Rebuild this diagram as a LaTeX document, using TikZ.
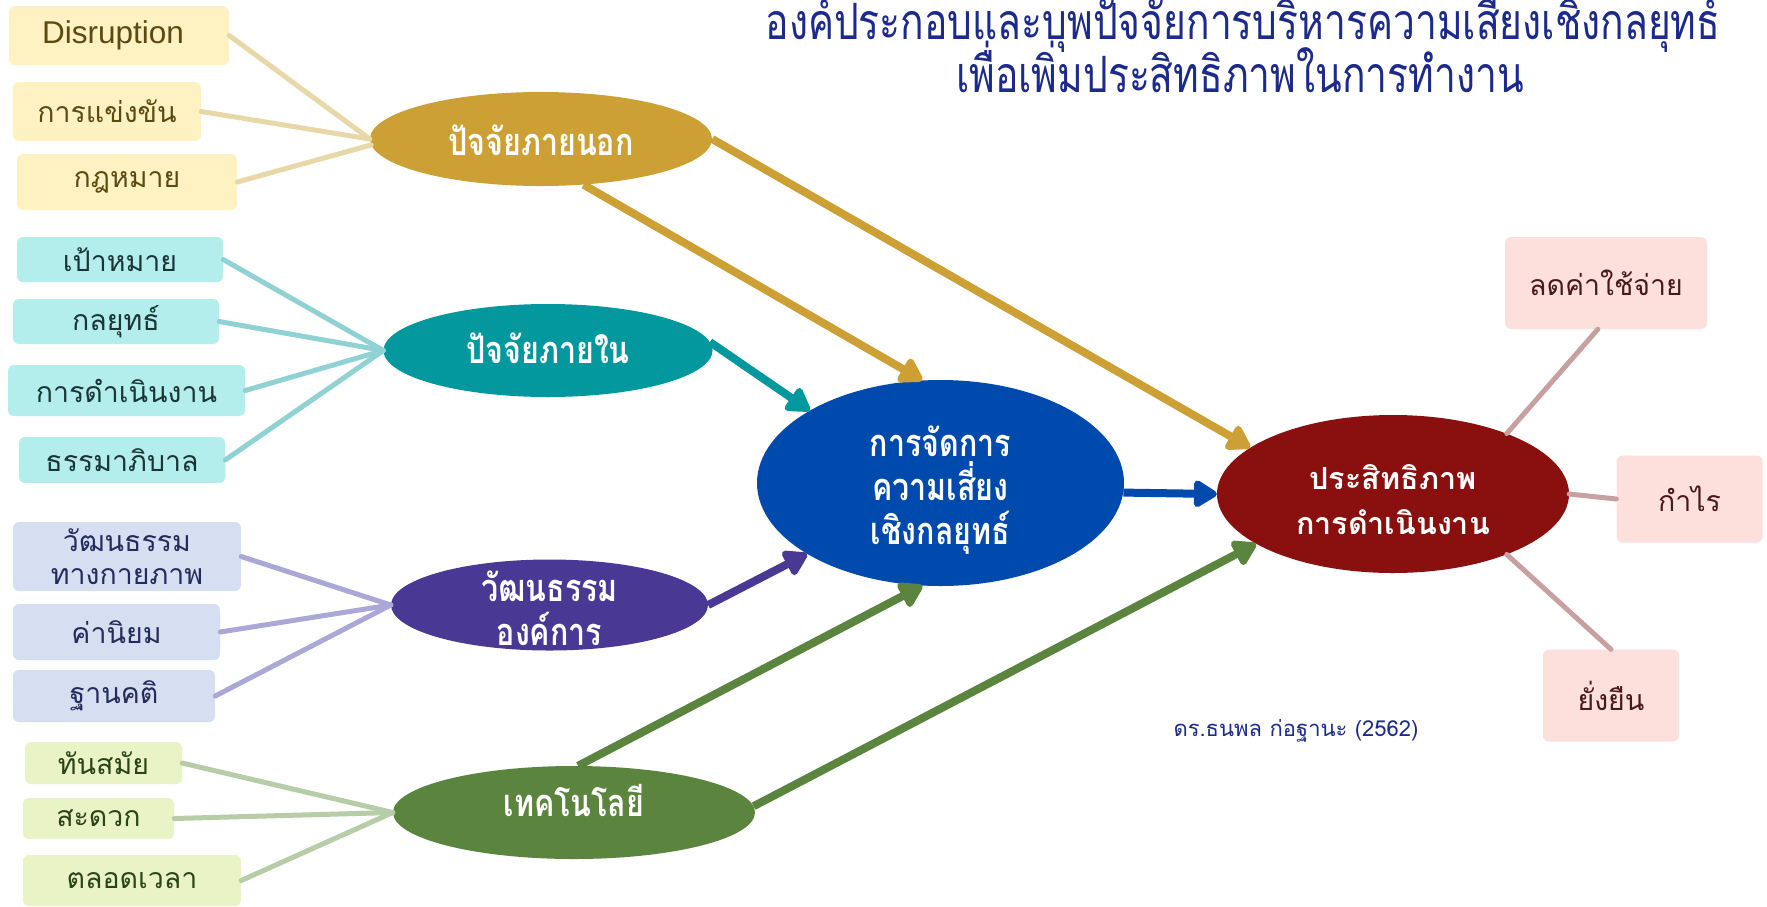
\documentclass[tikz,border=0pt]{standalone}
\usepackage{fontspec}
\setmainfont{Liberation Sans}
\newfontfamily\thai[Script=Thai]{Loma}
\newfontfamily\thaicond[Script=Thai,FakeStretch=0.8]{Loma}
\newfontfamily\thaititle[Script=Thai,FakeStretch=0.78]{Loma}
\usetikzlibrary{shapes.geometric,arrows.meta}
\definecolor{extc}{HTML}{CCA035}
\definecolor{intc}{HTML}{03989E}
\definecolor{culc}{HTML}{4A3895}
\definecolor{tecc}{HTML}{5B853E}
\definecolor{riskc}{HTML}{004AAD}
\definecolor{perfc}{HTML}{8A1010}
\definecolor{ybox}{HTML}{FFF2C2}
\definecolor{tbox}{HTML}{B3EEEC}
\definecolor{pbox}{HTML}{D6DEF2}
\definecolor{gbox}{HTML}{EAF3C6}
\definecolor{rbox}{HTML}{FDE0DC}
\definecolor{ytxt}{HTML}{5C4A12}
\definecolor{ttxt}{HTML}{1A3535}
\definecolor{ptxt}{HTML}{242C5A}
\definecolor{gtxt}{HTML}{2A4418}
\definecolor{rtxt}{HTML}{4A1A1A}
\definecolor{yline}{HTML}{E8D8A8}
\definecolor{tline}{HTML}{90D2D4}
\definecolor{pline}{HTML}{ABA8D8}
\definecolor{gline}{HTML}{B6CDA8}
\definecolor{rline}{HTML}{C9A0A0}
\definecolor{titlec}{HTML}{1C2A8C}
% text placed with zero height/depth, raised by #1
\newcommand{\ellline}[2]{\raisebox{#1}[0pt][0pt]{#2}}
\newcommand{\ellstack}[3]{\raisebox{#1}[0pt][0pt]{\parbox[c]{#2}{\centering #3}}}
\begin{document}
\begin{tikzpicture}[x=1pt,y=-1pt,
  box/.style={rectangle, rounded corners=6pt, inner sep=0pt, align=center,
    font=\thai\fontsize{28.5}{33}\selectfont},
  ybx/.style={box, fill=ybox, text=ytxt},
  tbx/.style={box, fill=tbox, text=ttxt},
  pbx/.style={box, fill=pbox, text=ptxt},
  gbx/.style={box, fill=gbox, text=gtxt},
  rbx/.style={box, fill=rbox, text=rtxt},
  ell/.style={ellipse, inner sep=0pt, text=white,
    font=\thaicond\bfseries\fontsize{38}{44}\selectfont},
  ttl/.style={anchor=base, text=titlec, inner sep=0pt,
    font=\thaititle\fontsize{50}{50}\selectfont},
  spoke/.style={line width=5pt, line cap=round},
  arr/.style={line width=8pt, -{Triangle[length=26pt,width=30pt,round]}}
]
\useasboundingbox (0,0) rectangle (1767,906);
\fill[white] (0,0) rectangle (1767,906);

% title
\node[ttl] (title1) at (1243,39) {องค์ประกอบและบุพปัจจัยการบริหารความเสี่ยงเชิงกลยุทธ์};
\node[ttl] (title2) at (1240,92) {เพื่อเพิ่มประสิทธิภาพในการทำงาน};

% left boxes
\node[ybx, minimum width=220pt, minimum height=59pt, font=\rmfamily\fontsize{31.5}{35}\selectfont] (disr) at (119,35.5) {Disruption\hspace*{12pt}};
\node[ybx, minimum width=188pt, minimum height=59pt] (comp) at (107,111.5) {การแข่งขัน};
\node[ybx, minimum width=220pt, minimum height=56pt] (law) at (127,182) {กฎหมาย};

\node[tbx, minimum width=206pt, minimum height=45pt] (goal) at (120,259.5) {เป้าหมาย};
\node[tbx, minimum width=206pt, minimum height=45pt] (strat) at (116,321.5) {กลยุทธ์};
\node[tbx, minimum width=237pt, minimum height=51pt] (oper) at (126.5,390.5) {การดำเนินงาน};
\node[tbx, minimum width=206pt, minimum height=46pt] (gov) at (122,460) {ธรรมาภิบาล};

\node[pbx, minimum width=228pt, minimum height=69pt] (phys) at (127,556.5) {วัฒนธรรม\\ทางกายภาพ};
\node[pbx, minimum width=207pt, minimum height=56pt] (value) at (116.5,632) {ค่านิยม};
\node[pbx, minimum width=202pt, minimum height=52pt] (assume) at (114,696) {ฐานคติ};

\node[gbx, minimum width=157pt, minimum height=42pt] (modern) at (103.5,763) {ทันสมัย};
\node[gbx, minimum width=151pt, minimum height=41pt] (conv) at (98.5,818.5) {สะดวก};
\node[gbx, minimum width=218pt, minimum height=51pt] (always) at (132,880.5) {ตลอดเวลา};

% right boxes
\node[rbx, minimum width=202pt, minimum height=92pt] (cost) at (1606,283) {ลดค่าใช้จ่าย};
\node[rbx, minimum width=146pt, minimum height=87pt] (profit) at (1689.5,499) {กำไร};
\node[rbx, minimum width=136pt, minimum height=92pt] (sust) at (1611,695.5) {ยั่งยืน};

% ellipses
\node[ell, fill=extc, minimum width=342pt, minimum height=94pt] (ext) at (541,139) {\ellline{-16.5pt}{ปัจจัยภายนอก}};
\node[ell, fill=intc, minimum width=329pt, minimum height=93pt] (int) at (548,350.5) {\ellline{-12.5pt}{ปัจจัยภายใน}};
\node[ell, fill=culc, minimum width=317pt, minimum height=91pt] (cul) at (549.5,605) {\ellstack{-9pt}{160pt}{วัฒนธรรม\\องค์การ}};
\node[ell, fill=tecc, minimum width=362pt, minimum height=93pt] (tec) at (574,812.5) {\ellline{-3.5pt}{เทคโนโลยี}};
\node[ell, fill=riskc, minimum width=367pt, minimum height=206pt] (risk) at (940.5,483) {\ellstack{-13pt}{180pt}{การจัดการ\\ความเสี่ยง\\เชิงกลยุทธ์}};
\node[ell, fill=perfc, minimum width=352pt, minimum height=158pt, font=\thai\bfseries\fontsize{30.5}{45}\selectfont] (perf) at (1393,494) {\ellstack{-12pt}{220pt}{ประสิทธิภาพ\\การดำเนินงาน}};

% author
\node[font=\thai\fontsize{22}{26}\selectfont, text=titlec] (auth) at (1296,731) {ดร.ธนพล ก่อฐานะ (2562)};

% spokes
\draw[spoke, yline] (disr.east) -- (ext.180);
\draw[spoke, yline] (comp.east) -- (ext.180);
\draw[spoke, yline] (law.east) -- (ext.182);
\draw[spoke, tline] (goal.east) -- (int.west);
\draw[spoke, tline] (strat.east) -- (int.west);
\draw[spoke, tline] (oper.east) -- (int.west);
\draw[spoke, tline] (gov.east) -- (int.west);
\draw[spoke, pline] (phys.east) -- (cul.west);
\draw[spoke, pline] (value.east) -- (cul.west);
\draw[spoke, pline] (assume.east) -- (cul.west);
\draw[spoke, gline] (modern.east) -- (tec.west);
\draw[spoke, gline] (conv.east) -- (tec.west);
\draw[spoke, gline] (always.east) -- (tec.west);
\draw[spoke, rline] (cost.-100) -- (perf.28);
\draw[spoke, rline] (perf.east) -- (profit.west);
\draw[spoke, rline] (perf.-28) -- (sust.north);

% arrows
\draw[arr, extc] (ext.-47) -- (risk.100);
\draw[arr, extc] (ext.0) -- (perf.162);
\draw[arr, intc] (int.3) -- (risk.151);
\draw[arr, riskc] (risk.-3) -- (perf.180);
\draw[arr, culc] (cul.0) -- (risk.208);
\draw[arr, tecc] (tec.85) -- (risk.260);
\draw[arr, tecc] (tec.2) -- (perf.200);
\end{tikzpicture}
\end{document}
